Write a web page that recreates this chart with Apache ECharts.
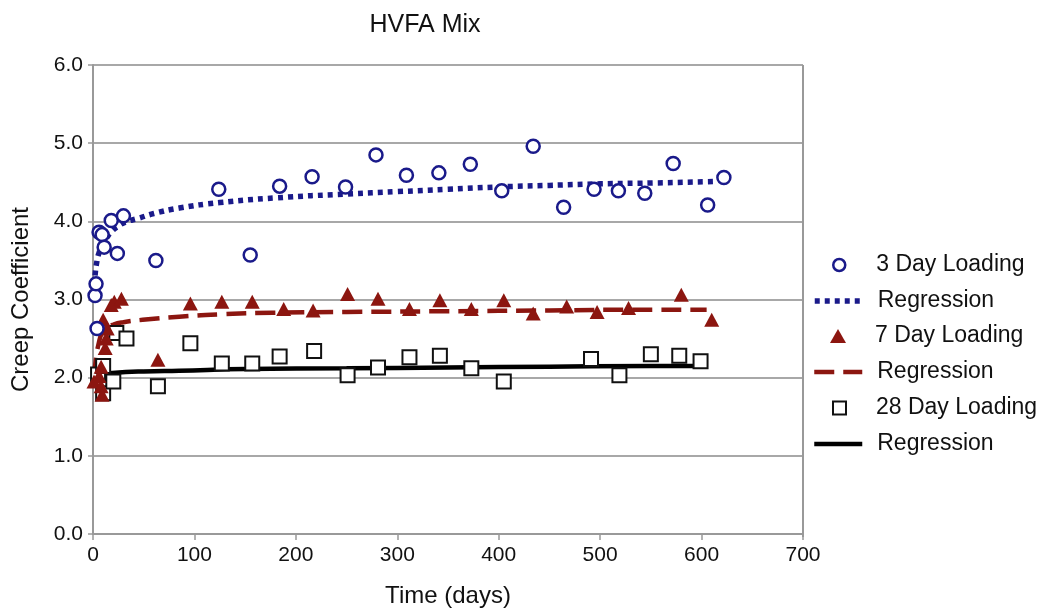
<!DOCTYPE html>
<html>
<head>
<meta charset="utf-8">
<script src="https://cdn.jsdelivr.net/npm/echarts@6/dist/echarts.min.js"></script>
<style>html,body{margin:0;padding:0;background:#fff}#c{width:1047px;height:613px}</style>
</head>
<body>
<div id="c"></div>
<script>
// ---- Data ----
const load3Days = [2, 3, 4, 6, 9, 11, 18, 24, 30, 62, 124, 155, 184, 216, 249, 279, 309, 341, 372, 403, 434, 464, 494, 518, 544, 572, 606, 622];
const load3Vals = [3.05, 3.20, 2.63, 3.86, 3.83, 3.67, 4.01, 3.59, 4.07, 3.50, 4.41, 3.57, 4.45, 4.57, 4.44, 4.85, 4.59, 4.62, 4.73, 4.39, 4.96, 4.18, 4.41, 4.39, 4.36, 4.74, 4.21, 4.56];

const reg3Days = [1, 2, 4, 6, 9, 14, 19, 25, 32, 45, 60, 85, 125, 180, 250, 300, 350, 400, 450, 500, 550, 615];
const reg3Vals = [3.05, 3.30, 3.50, 3.60, 3.69, 3.80, 3.88, 3.94, 3.99, 4.04, 4.10, 4.17, 4.24, 4.30, 4.35, 4.38, 4.41, 4.44, 4.46, 4.48, 4.49, 4.51];

const load7Days = [1, 6, 8, 8, 9, 10, 12, 13, 14, 18, 21, 28, 64, 96, 127, 157, 188, 217, 251, 281, 312, 342, 373, 405, 434, 467, 497, 528, 580, 610];
const load7Vals = [1.95, 2.02, 2.14, 1.89, 1.78, 2.74, 2.38, 2.50, 2.63, 2.93, 2.97, 3.01, 2.23, 2.95, 2.97, 2.97, 2.88, 2.86, 3.07, 3.01, 2.88, 2.99, 2.88, 2.99, 2.82, 2.91, 2.84, 2.89, 3.06, 2.74];

const reg7Days = [1, 3, 6, 9, 12, 20, 30, 49, 85, 125, 177, 250, 350, 450, 550, 605];
const reg7Vals = [2.00, 2.25, 2.46, 2.58, 2.63, 2.68, 2.71, 2.74, 2.78, 2.81, 2.83, 2.84, 2.85, 2.86, 2.87, 2.87];

const load28Days = [5, 10, 10, 20, 23, 33, 64, 96, 127, 157, 184, 218, 251, 281, 312, 342, 373, 405, 491, 519, 550, 578, 599];
const load28Vals = [2.04, 1.80, 2.15, 1.95, 2.57, 2.50, 1.89, 2.44, 2.18, 2.18, 2.27, 2.34, 2.03, 2.13, 2.26, 2.28, 2.12, 1.95, 2.24, 2.03, 2.30, 2.28, 2.21];

const reg28Days = [1, 3, 6, 19, 50, 85, 151, 250, 350, 450, 550, 600];
const reg28Vals = [1.95, 2.00, 2.04, 2.06, 2.08, 2.09, 2.11, 2.12, 2.13, 2.14, 2.15, 2.15];

const xTicks = [0, 100, 200, 300, 400, 500, 600, 700];
const yTicks = [0, 1, 2, 3, 4, 5, 6];

const legendNames = ['3 Day Loading', 'Regression 3', '7 Day Loading', 'Regression 7', '28 Day Loading', 'Regression 28'];

const zip = (a, b) => a.map((v, i) => [v, b[i]]);

const BLUE = '#1a1a8a';
const RED = '#8c1610';
const FONT = '"Liberation Sans", Arial, sans-serif';
const LEG_FS = 23;

const styles = {
  '3 Day Loading': { itemStyle: { color: '#fff', borderColor: BLUE, borderWidth: 2.5, opacity: 1 } },
  'Regression 3': { lineStyle: { color: BLUE, width: 5.5, type: [5, 5], cap: 'butt' } },
  '7 Day Loading': { itemStyle: { color: RED, borderWidth: 0, opacity: 1 } },
  'Regression 7': { lineStyle: { color: RED, width: 4.5, type: [20, 9], cap: 'butt' } },
  '28 Day Loading': { itemStyle: { color: '#fff', borderColor: '#111', borderWidth: 2, opacity: 1 } },
  'Regression 28': { lineStyle: { color: '#000', width: 4.5, type: 'solid' } }
};

// legend layout: [left, rowCenterY, iconW, iconH]
const legLayout = [
  [832, 265, 12, 12],
  [812, 301, 48, 14],
  [830, 336, 16, 14],
  [812, 372, 48, 14],
  [832, 408, 13, 13],
  [812, 444, 48, 14]
];
const TEXT_X = 875;

const legends = legendNames.map((n, i) => {
  const [l, cy, w, h] = legLayout[i];
  const isLine = n.indexOf('Regression') === 0;
  const lg = {
    show: true, orient: 'vertical', left: l, top: cy - LEG_FS / 2, padding: 0,
    itemWidth: w, itemHeight: h, selectedMode: false,
    textStyle: { fontFamily: FONT, fontSize: LEG_FS, color: '#111', padding: [0, 0, 0, TEXT_X - (l + w + 5)] },
    formatter: nm => nm.indexOf('Regression') === 0 ? 'Regression' : nm,
    data: [n]
  };
  if (isLine) {
    lg.itemStyle = { opacity: 0 };
    lg.lineStyle = Object.assign({}, styles[n].lineStyle);
  } else {
    lg.itemStyle = Object.assign({}, styles[n].itemStyle);
  }
  return lg;
});

const chart = echarts.init(document.getElementById('c'), null, { renderer: 'canvas' });
chart.setOption({
  animation: false,
  backgroundColor: '#fff',
  title: {
    text: 'HVFA Mix',
    left: 420, top: 8, textAlign: 'center',
    textStyle: { fontFamily: FONT, fontSize: 25, fontWeight: 'normal', color: '#111' }
  },
  grid: { left: 93, right: 244, top: 65, bottom: 76, containLabel: false },
  xAxis: {
    type: 'value', min: xTicks[0], max: xTicks[xTicks.length - 1], interval: 100,
    name: 'Time (days)', nameLocation: 'middle', nameGap: 50,
    nameTextStyle: { fontFamily: FONT, fontSize: 24, color: '#111' },
    axisLine: { show: true, onZero: false, lineStyle: { color: '#999', width: 2 } },
    axisTick: { show: true, length: 6, inside: false, lineStyle: { color: '#999', width: 1.5 } },
    axisLabel: { fontFamily: FONT, fontSize: 21, color: '#111', margin: 11 },
    splitLine: { show: false }
  },
  yAxis: {
    type: 'value', min: yTicks[0], max: yTicks[yTicks.length - 1], interval: 1,
    name: 'Creep Coefficient', nameLocation: 'middle', nameGap: 60, nameRotate: 90,
    nameTextStyle: { fontFamily: FONT, fontSize: 24, color: '#111' },
    axisLine: { show: true, lineStyle: { color: '#999', width: 2 } },
    axisTick: { show: true, length: 5, lineStyle: { color: '#999', width: 1.5 } },
    axisLabel: { fontFamily: FONT, fontSize: 21, color: '#111', margin: 10, formatter: v => v.toFixed(1) },
    splitLine: { show: true, lineStyle: { color: '#a8a8a8', width: 2 } }
  },
  legend: legends,
  series: [
    {
      name: 'Regression 28', type: 'line', data: zip(reg28Days, reg28Vals), showSymbol: false, symbol: 'none',
      smooth: true, z: 2, lineStyle: styles['Regression 28'].lineStyle, itemStyle: { color: '#000' }
    },
    {
      name: 'Regression 7', type: 'line', data: zip(reg7Days, reg7Vals), showSymbol: false, symbol: 'none',
      smooth: true, z: 2, lineStyle: styles['Regression 7'].lineStyle, itemStyle: { color: RED }
    },
    {
      name: 'Regression 3', type: 'line', data: zip(reg3Days, reg3Vals), showSymbol: false, symbol: 'none',
      smooth: true, z: 2, lineStyle: styles['Regression 3'].lineStyle, itemStyle: { color: BLUE }
    },
    {
      name: '28 Day Loading', type: 'scatter', data: zip(load28Days, load28Vals), symbol: 'rect', symbolSize: 14, z: 3,
      itemStyle: styles['28 Day Loading'].itemStyle
    },
    {
      name: '7 Day Loading', type: 'scatter', data: zip(load7Days, load7Vals), symbol: 'triangle', symbolSize: [15, 14], z: 3,
      itemStyle: styles['7 Day Loading'].itemStyle
    },
    {
      name: '3 Day Loading', type: 'scatter', data: zip(load3Days, load3Vals), symbol: 'circle', symbolSize: 13, z: 3,
      itemStyle: styles['3 Day Loading'].itemStyle
    }
  ],
  graphic: [{
    type: 'line', z: 1,
    shape: { x1: 803, y1: 65, x2: 803, y2: 537 },
    style: { stroke: '#999', lineWidth: 2 }
  }]
});
</script>
</body>
</html>
